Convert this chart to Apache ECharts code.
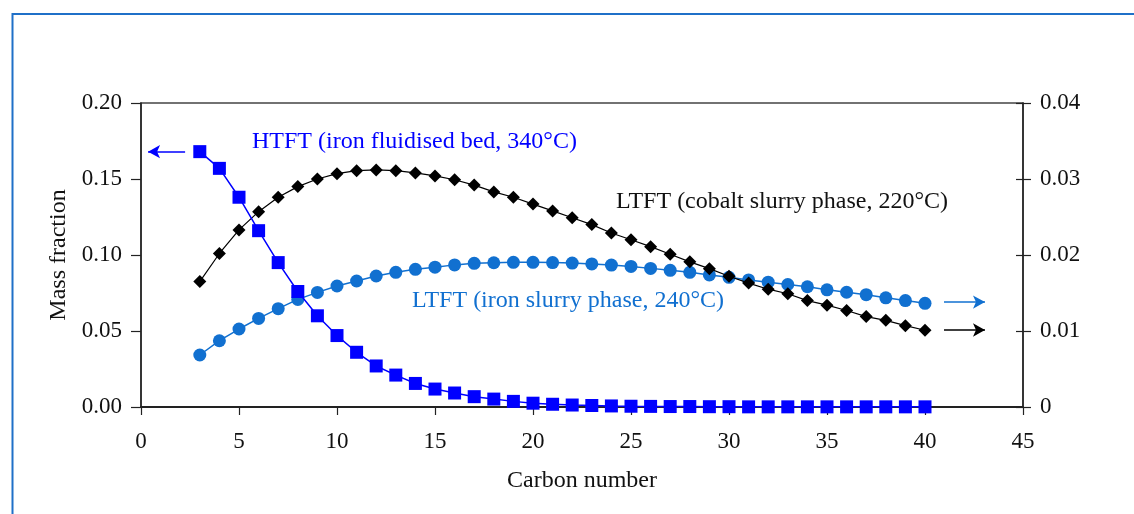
<!DOCTYPE html>
<html>
<head>
<meta charset="utf-8">
<script src="https://cdn.jsdelivr.net/npm/echarts@6/dist/echarts.min.js"></script>
<style>
html,body{margin:0;padding:0;background:#fff;}
#chart{width:1134px;height:514px;}
</style>
</head>
<body>
<div id="chart"></div>
<script>
// Carbon numbers (x values)
const carbon = [3,4,5,6,7,8,9,10,11,12,13,14,15,16,17,18,19,20,21,22,23,24,25,26,27,28,29,30,31,32,33,34,35,36,37,38,39,40];
// HTFT (iron fluidised bed, 340°C) — left axis
const htft = [0.168,0.157,0.138,0.116,0.095,0.076,0.060,0.047,0.036,0.027,0.021,0.0155,0.0118,0.0092,0.0068,0.0052,0.0037,0.0025,0.0018,0.0013,0.0010,0.0007,0.0005,0.0004,0.0003,0.0003,0.0002,0.0002,0.0001,0.0001,0.0001,0.0001,0.0001,0.0001,0.0001,0.0001,0.0001,0.0001];
// LTFT (iron slurry phase, 240°C) — left axis
const ltftIron = [0.0342,0.0436,0.0513,0.0583,0.0647,0.0708,0.0754,0.0796,0.0829,0.0862,0.0886,0.0906,0.0920,0.0935,0.0945,0.0949,0.0952,0.0952,0.0950,0.0947,0.0941,0.0934,0.0925,0.0912,0.0899,0.0886,0.0869,0.0853,0.0836,0.0821,0.0806,0.0791,0.0771,0.0755,0.0739,0.0718,0.0700,0.0682];
// LTFT (cobalt slurry phase, 220°C) — right axis
const ltftCobalt = [0.0165,0.0202,0.0233,0.0257,0.0276,0.0290,0.0300,0.0307,0.0311,0.0312,0.0311,0.0308,0.0304,0.0299,0.0292,0.0283,0.0276,0.0267,0.0258,0.0249,0.0240,0.0229,0.0220,0.0211,0.0201,0.0191,0.0182,0.0172,0.0163,0.0155,0.0149,0.0140,0.0134,0.0127,0.0119,0.0114,0.0107,0.0101];
// Axis ticks
const xTicks = [0,5,10,15,20,25,30,35,40,45];
const leftTicks = ['0.00','0.05','0.10','0.15','0.20'];
const rightTicks = ['0','0.01','0.02','0.03','0.04'];
// Annotation texts
const labels = {
  htft: 'HTFT (iron fluidised bed, 340°C)',
  cobalt: 'LTFT (cobalt slurry phase, 220°C)',
  iron: 'LTFT (iron slurry phase, 240°C)'
};

const FONT = '"Liberation Serif", "Times New Roman", serif';
const BLUE = '#0000ff';
const LBLUE = '#1170d0';
const BLACK = '#000000';

const pair = (xs, ys) => xs.map((x, i) => [x, ys[i]]);

const chart = echarts.init(document.getElementById('chart'), null, {renderer: 'canvas'});

const axisText = {fontFamily: FONT, fontSize: 23, color: '#111'};
const nameText = {fontFamily: FONT, fontSize: 24, color: '#111'};

const option = {
  animation: false,
  backgroundColor: '#fff',
  grid: {left: 141, right: 111, top: 103, bottom: 107, show: true, borderColor: '#444', borderWidth: 1.5, backgroundColor: 'transparent'},
  xAxis: {
    type: 'value', min: 0, max: 45, interval: 5,
    name: 'Carbon number', nameLocation: 'middle', nameGap: 62,
    nameTextStyle: nameText,
    axisLine: {show: true, onZero: false, lineStyle: {color: '#222', width: 2}},
    axisTick: {show: true, inside: false, length: 8, lineStyle: {color: '#222', width: 1.2}},
    axisLabel: Object.assign({margin: 23, formatter: v => String(xTicks[Math.round(v / 5)])}, axisText),
    splitLine: {show: false}
  },
  yAxis: [
    {
      type: 'value', min: 0, max: 0.2, interval: 0.05, position: 'left',
      name: 'Mass fraction', nameLocation: 'middle', nameGap: 70, nameRotate: 90,
      nameTextStyle: nameText,
      axisLine: {show: true, lineStyle: {color: '#222', width: 1.5}},
      axisTick: {show: true, inside: false, length: 10, lineStyle: {color: '#222', width: 1.2}},
      axisLabel: Object.assign({margin: 19, formatter: v => leftTicks[Math.round(v / 0.05)]}, axisText),
      splitLine: {show: false}
    },
    {
      type: 'value', min: 0, max: 0.04, interval: 0.01, position: 'right',
      axisLine: {show: true, lineStyle: {color: '#222', width: 1.5}},
      axisTick: {show: true, inside: false, length: 8, lineStyle: {color: '#222', width: 1.2}},
      axisLabel: Object.assign({margin: 17, formatter: v => rightTicks[Math.round(v / 0.01)]}, axisText),
      splitLine: {show: false}
    },
    {
      type: 'value', min: 0, max: 0.04, interval: 0.01, position: 'right',
      axisLine: {show: false},
      axisTick: {show: true, inside: true, length: 7, lineStyle: {color: '#222', width: 1.2}},
      axisLabel: {show: false},
      splitLine: {show: false}
    }
  ],
  series: [
    {
      name: labels.iron, type: 'line', yAxisIndex: 0,
      data: pair(carbon, ltftIron),
      symbol: 'circle', symbolSize: 13,
      lineStyle: {color: LBLUE, width: 1.5},
      itemStyle: {color: LBLUE},
      z: 2,
      markLine: {
        silent: true, animation: false,
        symbol: ['none', 'arrow'], symbolSize: [10, 12],
        label: {show: false},
        lineStyle: {color: LBLUE, width: 1.5, type: 'solid'},
        data: [[{coord: [40.97, 0.0690]}, {coord: [43.06, 0.0690]}]]
      }
    },
    {
      name: labels.cobalt, type: 'line', yAxisIndex: 1,
      data: pair(carbon, ltftCobalt),
      symbol: 'diamond', symbolSize: [13, 13],
      lineStyle: {color: BLACK, width: 1.2},
      itemStyle: {color: BLACK},
      z: 3,
      markLine: {
        silent: true, animation: false,
        symbol: ['none', 'arrow'], symbolSize: [10, 12],
        label: {show: false},
        lineStyle: {color: BLACK, width: 1.5, type: 'solid'},
        data: [[{coord: [40.97, 0.01013]}, {coord: [43.06, 0.01013]}]]
      }
    },
    {
      name: labels.htft, type: 'line', yAxisIndex: 0,
      data: pair(carbon, htft),
      symbol: 'rect', symbolSize: 13,
      lineStyle: {color: BLUE, width: 1.5},
      itemStyle: {color: BLUE},
      z: 4,
      markLine: {
        silent: true, animation: false,
        symbol: ['none', 'arrow'], symbolSize: [10, 12],
        label: {show: false},
        lineStyle: {color: BLUE, width: 1.5, type: 'solid'},
        data: [[{coord: [2.25, 0.168]}, {coord: [0.36, 0.168]}]]
      }
    }
  ],
  graphic: [
    {type: 'rect', silent: true, z: 100, shape: {x: 12.5, y: 14, width: 1200, height: 600}, style: {fill: 'none', stroke: '#1f70c8', lineWidth: 2}},
    {type: 'text', silent: true, z: 100, x: 252, y: 142, style: {text: labels.htft, font: '24px ' + FONT, fill: BLUE, align: 'left', verticalAlign: 'middle', textAlign: 'left', textVerticalAlign: 'middle'}},
    {type: 'text', silent: true, z: 100, x: 616, y: 202, style: {text: labels.cobalt, font: '24px ' + FONT, fill: '#111', align: 'left', verticalAlign: 'middle', textAlign: 'left', textVerticalAlign: 'middle'}},
    {type: 'text', silent: true, z: 100, x: 412, y: 301, style: {text: labels.iron, font: '24px ' + FONT, fill: LBLUE, align: 'left', verticalAlign: 'middle', textAlign: 'left', textVerticalAlign: 'middle'}}
  ]
};
chart.setOption(option);
</script>
</body>
</html>
